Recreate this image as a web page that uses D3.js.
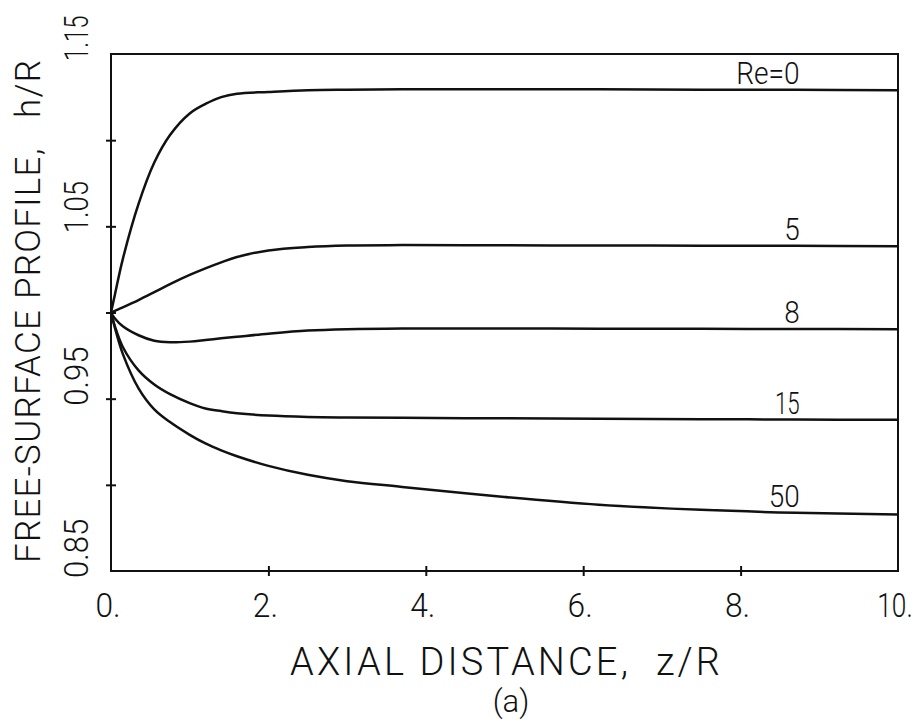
<!DOCTYPE html>
<html>
<head>
<meta charset="utf-8">
<script src="https://cdn.jsdelivr.net/npm/d3@7"></script>
<style>
  html, body { margin: 0; padding: 0; background: #fff; }
  svg text { font-family: Roboto, "DejaVu Sans", sans-serif; font-weight: 300; fill: #111; white-space: pre; }
</style>
</head>
<body>
<svg id="chart" width="922" height="727"></svg>
<script>
// Axial positions z/R at which the profiles are tabulated
const zGrid = [0, 0.05, 0.15, 0.35, 0.55, 0.75, 1.0, 1.2, 1.4, 1.6, 2.0, 2.5, 3.0, 3.7, 5.0, 6.2, 7.5, 8.7, 10.0];

// Free-surface height h/R for each Reynolds number
const hRe0  = [1.000, 1.0105, 1.031, 1.063, 1.087, 1.103, 1.1155, 1.121, 1.125, 1.127, 1.128, 1.129, 1.1293, 1.1295, 1.1295, 1.1295, 1.1293, 1.1292, 1.129];
const hRe5  = [1.000, 1.0010, 1.0030, 1.0072, 1.0118, 1.0165, 1.0218, 1.0256, 1.0291, 1.0322, 1.0360, 1.0380, 1.0389, 1.0391, 1.0390, 1.0389, 1.0388, 1.0387, 1.0385];
const hRe8  = [1.000, 0.9965, 0.9920, 0.9868, 0.9836, 0.9827, 0.9831, 0.9840, 0.9850, 0.9859, 0.9877, 0.9895, 0.9903, 0.9907, 0.9907, 0.9906, 0.9905, 0.9904, 0.9903];
const hRe15 = [1.000, 0.992, 0.980, 0.9664, 0.9582, 0.9526, 0.9474, 0.9443, 0.9428, 0.9416, 0.9402, 0.9394, 0.9391, 0.9389, 0.9386, 0.9384, 0.9381, 0.9379, 0.9377];
const hRe50 = [1.000, 0.991, 0.976, 0.956, 0.9438, 0.9364, 0.9290, 0.9240, 0.9200, 0.9166, 0.9110, 0.9058, 0.9021, 0.8988, 0.8930, 0.8885, 0.8855, 0.8838, 0.8828];

const curveNames = ["Re=0", "5", "8", "15", "50"];
const labelZ = 8.7;

// Axis ticks and their labels
const xTickValues = [0, 2, 4, 6, 8, 10];
const xTickLabels = ["0.", "2.", "4.", "6.", "8.", "10."];
const yTickValues = [0.85, 0.95, 1.05, 1.15];
const yTickLabels = ["0.85", "0.95", "1.05", "1.15"];
const yMinorTicks = [0.90, 0.95, 1.00, 1.05, 1.10];
const xMinorTicks = [2, 4, 6, 8];

const xTitle = "AXIAL DISTANCE,  z/R";
const yTitle = "FREE-SURFACE PROFILE,   h/R";
const panelTag = "(a)";

const svg = d3.select("#chart");
const plotLeft = 111, plotRight = 898, plotTop = 54, plotBottom = 571;
const ink = "#111";

// Narrow plotter-style lettering: advance widths in em
const advance = { "1": 0.30, ".": 0.24, "R": 0.55, "e": 0.48, "=": 0.52 };
const textWidth = (s, size) => [...s].reduce((w, c) => w + (advance[c] ?? 0.50) * size, 0);

// Squeeze each text horizontally (in its own frame) to the narrow lettering width
function condense(sel, place, size) {
  sel.attr("font-size", size).each(function (d, i) {
    const node = d3.select(this);
    const natural = this.getComputedTextLength();
    const k = natural > 0 ? textWidth(node.text(), size) / natural : 1;
    node.attr("transform", `${place(d, i)} scale(${k},1)`);
  });
}

const x = d3.scaleLinear().domain([0, 10]).range([plotLeft, plotRight]);
const y = d3.scaleLinear().domain([0.85, 1.15]).range([plotBottom, plotTop]);

// Frame
svg.append("rect")
  .attr("x", plotLeft).attr("y", plotTop)
  .attr("width", plotRight - plotLeft).attr("height", plotBottom - plotTop)
  .attr("fill", "none").attr("stroke", ink).attr("stroke-width", 2);

// Tick marks crossing the left and bottom edges
const yAxis = d3.axisLeft(y).tickValues(yMinorTicks).tickSize(5).tickFormat("");
const gy = svg.append("g").attr("transform", `translate(${plotLeft},0)`).call(yAxis);
gy.select(".domain").remove();
gy.selectAll(".tick line").attr("x1", -5).attr("x2", 5).attr("stroke", ink).attr("stroke-width", 2);

const xAxis = d3.axisBottom(x).tickValues(xMinorTicks).tickSize(5).tickFormat("");
const gx = svg.append("g").attr("transform", `translate(0,${plotBottom})`).call(xAxis);
gx.select(".domain").remove();
gx.selectAll(".tick line").attr("y1", -5).attr("y2", 5).attr("stroke", ink).attr("stroke-width", 2);

// Tick labels
const tickSize = 34;
svg.append("g").selectAll("text")
  .data(xTickValues)
  .join("text")
  .attr("text-anchor", "middle")
  .text((d, i) => xTickLabels[i])
  .call(condense, d => `translate(${x(d) - 3},617)`, tickSize);

svg.append("g").selectAll("text")
  .data(yTickValues)
  .join("text")
  .attr("text-anchor", "start")
  .text((d, i) => yTickLabels[i])
  .call(condense, d => `translate(88,${y(d) + 7}) rotate(-90)`, tickSize);

// Axis titles
svg.append("text")
  .attr("x", 290).attr("y", 675)
  .attr("font-size", 38)
  .attr("textLength", 430).attr("lengthAdjust", "spacing")
  .text(xTitle);

svg.append("text")
  .attr("transform", "translate(40,563) rotate(-90)")
  .attr("font-size", 35)
  .attr("textLength", 503).attr("lengthAdjust", "spacing")
  .text(yTitle);

svg.append("text")
  .attr("x", 511).attr("y", 712)
  .attr("text-anchor", "middle")
  .attr("font-size", 31)
  .text(panelTag);

// Profile curves
const series = [hRe0, hRe5, hRe8, hRe15, hRe50].map((vals, i) => ({
  name: curveNames[i],
  points: zGrid.map((z, j) => [z, vals[j]])
}));

const line = d3.line()
  .x(d => x(d[0]))
  .y(d => y(d[1]))
  .curve(d3.curveCatmullRom.alpha(0.5));

svg.append("g").selectAll("path")
  .data(series)
  .join("path")
  .attr("d", d => line(d.points))
  .attr("fill", "none")
  .attr("stroke", ink)
  .attr("stroke-width", 2.5)
  .attr("stroke-linejoin", "round");

// Curve labels sitting just above each line
svg.append("g").selectAll("text")
  .data(series)
  .join("text")
  .attr("text-anchor", "end")
  .text(d => d.name)
  .call(condense, d => `translate(${x(labelZ) + 4},${y(d.points[zGrid.indexOf(labelZ)][1]) - 6})`, 31);
</script>
</body>
</html>
